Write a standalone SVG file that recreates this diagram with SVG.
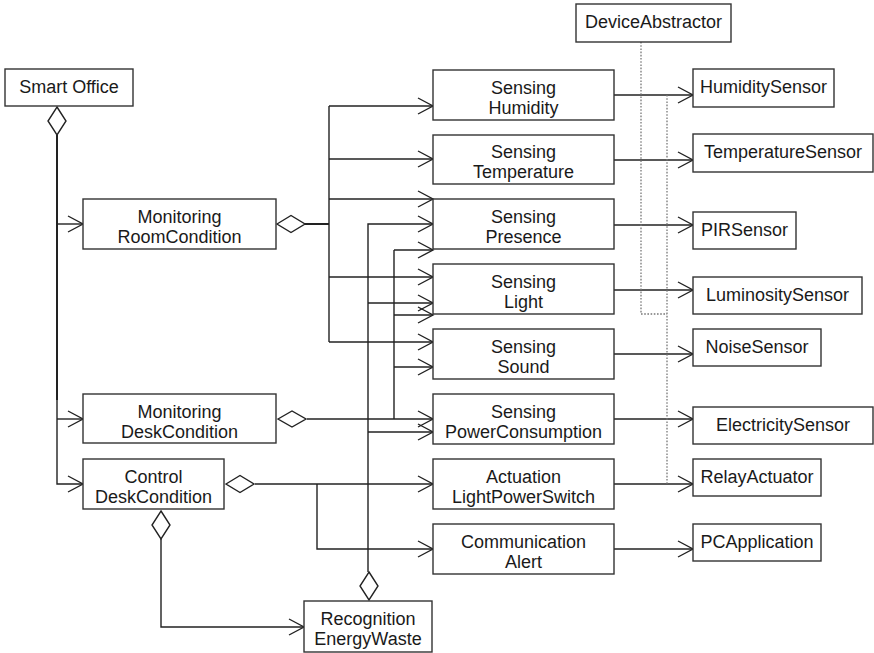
<svg xmlns="http://www.w3.org/2000/svg" width="874" height="653" viewBox="0 0 874 653">
<style>
rect.b{fill:#fff;stroke:#333;stroke-width:1.4}
text{font-family:"Liberation Sans",Arial,sans-serif;font-size:18px;fill:#1a1a1a;text-anchor:middle}
.c path{fill:none;stroke:#222;stroke-width:1.4}
.c path.a{marker-end:url(#arr)}
.c path.t{stroke-width:2}
.c path.d{stroke:#777;stroke-dasharray:1.6 1.6;stroke-width:1.3}
.c polygon{fill:#fff;stroke:#222;stroke-width:1.4}
</style>
<defs>
<marker id="arr" markerWidth="20" markerHeight="20" refX="16" refY="9" orient="auto" markerUnits="userSpaceOnUse">
<path d="M1,1 L16,9 L1,17" fill="none" stroke="#222" stroke-width="1.4"/>
</marker>
</defs>
<rect width="874" height="653" fill="#fff"/>
<g class="c" id="connectors">
<path class="t" d="M57,135 V400"/>
<path class="a" d="M57,390 V484 H83"/>
<path class="a" d="M57,224 H83"/>
<path class="a" d="M57,419 H83"/>
<path class="t" d="M305,224 H329"/>
<path d="M329,106 V342"/>
<path class="a" d="M329,106 H433"/>
<path class="a" d="M329,159 H433"/>
<path class="a" d="M329,199 H433"/>
<path class="a" d="M329,277 H433"/>
<path class="a" d="M329,342 H433"/>
<path class="a" d="M307,419 H433"/>
<path d="M394,419 V250"/>
<path class="a" d="M394,250 H433"/>
<path class="a" d="M394,315 H433"/>
<path class="a" d="M394,367 H433"/>
<path class="a" d="M368,572 V224 H433"/>
<path class="a" d="M368,303 H433"/>
<path class="a" d="M368,432 H433"/>
<path class="a" d="M255,484 H433"/>
<path class="a" d="M317,484 V549 H433"/>
<path class="a" d="M161,539 V627 H304"/>
<path class="a" d="M614,95 H693"/>
<path class="a" d="M614,160 H693"/>
<path class="a" d="M614,225 H693"/>
<path class="a" d="M614,290 H693"/>
<path class="a" d="M614,354 H693"/>
<path class="a" d="M614,419 H693"/>
<path class="a" d="M614,484 H693"/>
<path class="a" d="M614,549 H693"/>
<path class="d" d="M641,42 V314 H667"/>
<path class="d" d="M667,95 V484"/>
<polygon points="57,107 66,121 57,135 48,121"/>
<polygon points="277,224 291,215.5 305,224 291,232.5"/>
<polygon points="278,419 292,411 306,419 292,427"/>
<polygon points="226,484 240,475.5 254,484 240,492.5"/>
<polygon points="161,511 170,525 161,539 152,525"/>
<polygon points="369,572 378,586 369,600 360,586"/>
</g>
<g id="smart-office"><rect class="b" x="5" y="69" width="128" height="37"/><text x="69" y="93">Smart Office</text></g>
<g id="monitoring-room"><rect class="b" x="83" y="199" width="193" height="50"/><text x="179.5" y="223">Monitoring</text><text x="179.5" y="243">RoomCondition</text></g>
<g id="monitoring-desk"><rect class="b" x="83" y="394" width="193" height="49"/><text x="179.5" y="417.5">Monitoring</text><text x="179.5" y="437.5">DeskCondition</text></g>
<g id="control-desk"><rect class="b" x="83" y="459" width="141" height="50"/><text x="153.5" y="482.5">Control</text><text x="153.5" y="503">DeskCondition</text></g>
<g id="recognition"><rect class="b" x="304" y="601" width="128" height="51"/><text x="368" y="625">Recognition</text><text x="368" y="644.5">EnergyWaste</text></g>
<g id="sensing-humidity"><rect class="b" x="433" y="70" width="181" height="50"/><text x="523.5" y="93.5">Sensing</text><text x="523.5" y="113.5">Humidity</text></g>
<g id="sensing-temperature"><rect class="b" x="433" y="135" width="181" height="49"/><text x="523.5" y="158">Sensing</text><text x="523.5" y="178">Temperature</text></g>
<g id="sensing-presence"><rect class="b" x="433" y="199" width="181" height="50"/><text x="523.5" y="222.5">Sensing</text><text x="523.5" y="242.5">Presence</text></g>
<g id="sensing-light"><rect class="b" x="433" y="264" width="181" height="50"/><text x="523.5" y="287.5">Sensing</text><text x="523.5" y="307.5">Light</text></g>
<g id="sensing-sound"><rect class="b" x="433" y="329" width="181" height="50"/><text x="523.5" y="352.5">Sensing</text><text x="523.5" y="372.5">Sound</text></g>
<g id="sensing-power"><rect class="b" x="433" y="394" width="181" height="50"/><text x="523.5" y="417.5">Sensing</text><text x="523.5" y="437.5">PowerConsumption</text></g>
<g id="actuation"><rect class="b" x="433" y="459" width="181" height="50"/><text x="523.5" y="482.5">Actuation</text><text x="523.5" y="502.5">LightPowerSwitch</text></g>
<g id="communication"><rect class="b" x="433" y="524" width="181" height="50"/><text x="523.5" y="547.5">Communication</text><text x="523.5" y="567.5">Alert</text></g>
<g id="device-abstractor"><rect class="b" x="576" y="4" width="155" height="38"/><text x="653.5" y="28">DeviceAbstractor</text></g>
<g id="humidity-sensor"><rect class="b" x="693" y="69" width="141" height="38"/><text x="763.5" y="93">HumiditySensor</text></g>
<g id="temperature-sensor"><rect class="b" x="693" y="134" width="180" height="38"/><text x="783" y="158">TemperatureSensor</text></g>
<g id="pir-sensor"><rect class="b" x="693" y="212" width="103" height="37"/><text x="744.5" y="236">PIRSensor</text></g>
<g id="luminosity-sensor"><rect class="b" x="693" y="277" width="169" height="37"/><text x="777.5" y="301">LuminositySensor</text></g>
<g id="noise-sensor"><rect class="b" x="693" y="329" width="128" height="37"/><text x="757" y="353">NoiseSensor</text></g>
<g id="electricity-sensor"><rect class="b" x="693" y="407" width="180" height="37"/><text x="783" y="431">ElectricitySensor</text></g>
<g id="relay-actuator"><rect class="b" x="693" y="459" width="128" height="37"/><text x="757" y="483">RelayActuator</text></g>
<g id="pc-application"><rect class="b" x="693" y="524" width="128" height="37"/><text x="757" y="548">PCApplication</text></g>
</svg>
